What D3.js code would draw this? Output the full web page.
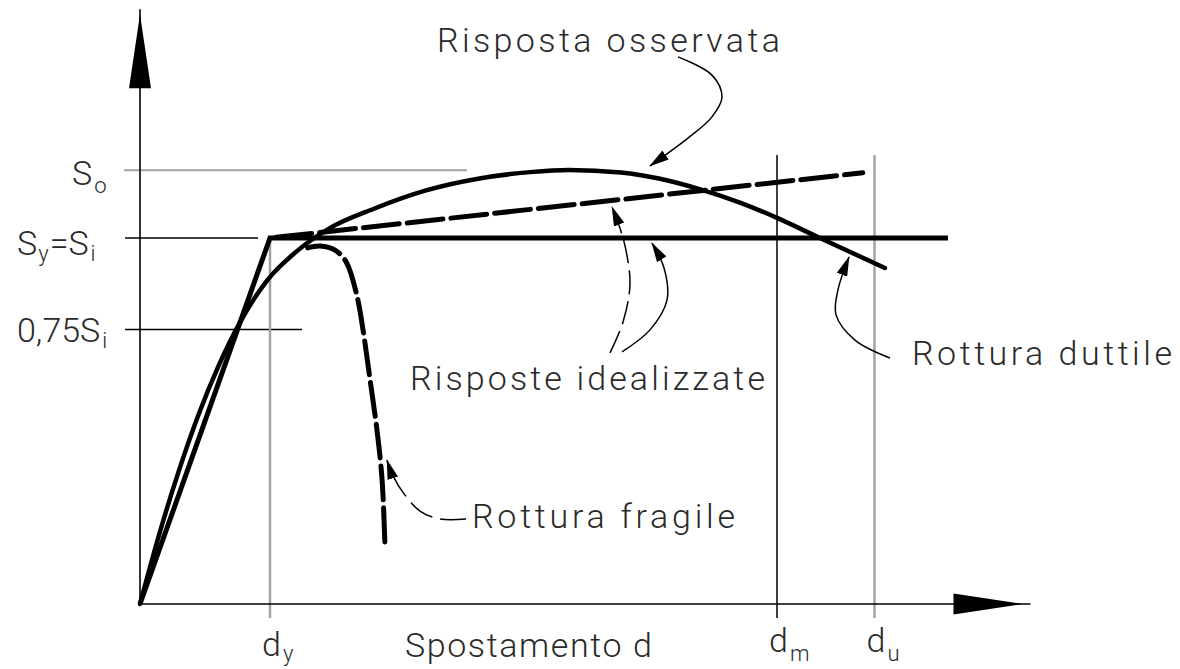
<!DOCTYPE html>
<html>
<head>
<meta charset="utf-8">
<script src="https://cdn.jsdelivr.net/npm/d3@7/dist/d3.min.js"></script>
<style>
  html, body { margin: 0; padding: 0; background: #fff; }
  svg { display: block; }
  text { font-family: Roboto, "DejaVu Sans", sans-serif; font-weight: 300; fill: #2a2a2a; }
</style>
</head>
<body>
<svg id="chart" width="1180" height="669"></svg>
<script>
// Displacement in units of d_y, force in units of S_i
const dY = 1.0, dM = 4.9, dU = 5.65;
const sI = 1.0, sO = 1.185, sFrac = 0.75;
const xAxisMax = 6.85, yAxisMax = 1.625;

// Idealised responses
const elastoPlastic = [[0, 0], [dY, sI], [6.215, sI]];
const hardening = [[dY, sI], [5.56, 1.178]];

// Observed response (ductile)
const observed = [
  [0, 0], [0.15, 0.193], [0.3, 0.365], [0.45, 0.517], [0.6, 0.647], [0.77, 0.77],
  [0.98, 0.885], [1.2, 0.962], [1.45, 1.025], [1.8, 1.08], [2.2, 1.13], [2.6, 1.162],
  [3.0, 1.18], [3.3, 1.186], [3.7, 1.179], [4.0, 1.162], [4.31, 1.133], [4.62, 1.096],
  [4.9, 1.055], [5.23, 1.0], [5.73, 0.918]
];

// Brittle failure branch
const fragile = [
  [1.29, 0.973], [1.385, 0.978], [1.5, 0.967], [1.59, 0.932], [1.67, 0.84],
  [1.715, 0.75], [1.77, 0.612], [1.823, 0.475], [1.862, 0.34], [1.885, 0.153]
];

// Leader lines for the callouts
const leaderObserved = [[4.138, 1.495], [4.4, 1.445], [4.477, 1.385], [4.4, 1.331], [4.215, 1.273], [3.923, 1.197]];
const leaderIdealDashed = [[3.615, 0.686], [3.715, 0.77], [3.769, 0.872], [3.738, 0.967], [3.692, 1.027], [3.631, 1.085]];
const leaderIdealSolid = [[3.708, 0.689], [3.923, 0.749], [4.054, 0.831], [4.031, 0.918], [3.938, 0.986]];
const leaderDuctile = [[5.769, 0.672], [5.5, 0.721], [5.354, 0.79], [5.369, 0.858], [5.454, 0.948]];
const leaderFragile = [[2.508, 0.232], [2.308, 0.232], [2.154, 0.254], [2.031, 0.301], [1.946, 0.35], [1.9, 0.393]];

const svg = d3.select("#chart");

const x = d3.scaleLinear().domain([0, 1]).range([140, 270]);
const y = d3.scaleLinear().domain([0, 1]).range([604, 238]);

const line = d3.line().x(d => x(d[0])).y(d => y(d[1]));
const smooth = d3.line().x(d => x(d[0])).y(d => y(d[1])).curve(d3.curveCatmullRom.alpha(0.5));
const monotone = d3.line().x(d => x(d[0])).y(d => y(d[1])).curve(d3.curveMonotoneX);

// arrowhead marker for callouts
svg.append("defs").append("marker")
  .attr("id", "tip")
  .attr("viewBox", "0 0 20 11")
  .attr("refX", 19).attr("refY", 5.5)
  .attr("markerWidth", 20).attr("markerHeight", 11)
  .attr("markerUnits", "userSpaceOnUse")
  .attr("orient", "auto")
  .append("path").attr("d", "M0,0 L20,5.5 L0,11 Z").attr("fill", "#000");

const grey = "#a3a3a3";

// reference levels
svg.append("line").attr("x1", 124).attr("x2", 467).attr("y1", y(sO)).attr("y2", y(sO))
  .attr("stroke", grey).attr("stroke-width", 2);
svg.append("line").attr("x1", 125).attr("x2", 258).attr("y1", y(sI)).attr("y2", y(sI))
  .attr("stroke", "#000").attr("stroke-width", 1.5);
svg.append("line").attr("x1", 125).attr("x2", 302).attr("y1", y(sFrac * sI)).attr("y2", y(sFrac * sI))
  .attr("stroke", "#000").attr("stroke-width", 1.5);

// displacement markers
svg.append("line").attr("x1", x(dY)).attr("x2", x(dY)).attr("y1", y(sI)).attr("y2", y(0) + 14)
  .attr("stroke", grey).attr("stroke-width", 2.5);
svg.append("line").attr("x1", x(dM)).attr("x2", x(dM)).attr("y1", 155).attr("y2", y(0) + 14)
  .attr("stroke", "#000").attr("stroke-width", 1.5);
svg.append("line").attr("x1", x(dU)).attr("x2", x(dU)).attr("y1", 155).attr("y2", y(0) + 14)
  .attr("stroke", grey).attr("stroke-width", 2.5);

// axes with filled arrowheads
const x0 = x(0), y0 = y(0), xEnd = x(xAxisMax), yEnd = y(yAxisMax);
svg.append("line").attr("x1", x0).attr("x2", x0).attr("y1", y0).attr("y2", yEnd)
  .attr("stroke", "#000").attr("stroke-width", 1.6);
svg.append("line").attr("x1", x0).attr("x2", xEnd).attr("y1", y0).attr("y2", y0)
  .attr("stroke", "#000").attr("stroke-width", 1.6);
svg.append("path").attr("d", `M${x0},${yEnd + 5} L${x0 - 11},${yEnd + 79} L${x0 + 11},${yEnd + 79} Z`).attr("fill", "#000");
svg.append("path").attr("d", `M${xEnd - 8},${y0} L${xEnd - 77},${y0 - 10.5} L${xEnd - 77},${y0 + 10.5} Z`).attr("fill", "#000");

// curves
svg.append("path").attr("d", line(elastoPlastic)).attr("fill", "none")
  .attr("stroke", "#000").attr("stroke-width", 5).attr("stroke-linejoin", "miter");
svg.append("path").attr("d", line(hardening)).attr("fill", "none")
  .attr("stroke", "#000").attr("stroke-width", 5).attr("stroke-dasharray", "36,8")
  .attr("stroke-dashoffset", -6).attr("stroke-linecap", "round");
svg.append("path").attr("d", monotone(observed)).attr("fill", "none")
  .attr("stroke", "#000").attr("stroke-width", 4.5).attr("stroke-linecap", "round");
svg.append("path").attr("d", smooth(fragile)).attr("fill", "none")
  .attr("stroke", "#000").attr("stroke-width", 5).attr("stroke-dasharray", "34,8")
  .attr("stroke-linecap", "round");

// callout leaders
const leader = (pts, dash) => svg.append("path").attr("d", smooth(pts)).attr("fill", "none")
  .attr("stroke", "#000").attr("stroke-width", 1.5)
  .attr("stroke-dasharray", dash || null).attr("marker-end", "url(#tip)");
leader(leaderObserved);
leader(leaderIdealDashed, "24,7");
leader(leaderIdealSolid);
leader(leaderDuctile);
leader(leaderFragile, "26,8");

// callout texts
const callouts = [
  { t: "Risposta osservata", x: 437, y: 52, w: 343 },
  { t: "Risposte idealizzate", x: 410, y: 390, w: 355 },
  { t: "Rottura duttile", x: 912, y: 365, w: 260 },
  { t: "Rottura fragile", x: 472, y: 528, w: 263 },
  { t: "Spostamento d", x: 405, y: 657, w: 247 }
];
svg.selectAll("text.callout").data(callouts).join("text")
  .attr("class", "callout")
  .attr("x", d => d.x).attr("y", d => d.y)
  .attr("font-size", 34)
  .attr("textLength", d => d.w).attr("lengthAdjust", "spacing")
  .text(d => d.t);

// force-axis labels
const lab = (xp, yp, parts) => {
  const t = svg.append("text").attr("x", xp).attr("y", yp).attr("font-size", 34);
  parts.forEach(p => t.append("tspan").attr("font-size", p.s || 34).attr("dy", p.dy || 0)
    .attr("dx", p.dx || 0).text(p.t));
  return t;
};
lab(72, y(sO) + 15, [{ t: "S" }, { t: "o", s: 22, dy: 8, dx: 2 }]);
lab(17, y(sI) + 17, [{ t: "S" }, { t: "y", s: 22, dy: 6, dx: 1 }, { t: "=", dy: -6, dx: 1 }, { t: "S" }, { t: "i", s: 22, dy: 6, dx: 2 }]);
lab(17, y(sFrac * sI) + 12, [{ t: "0,75S" }, { t: "i", s: 22, dy: 6, dx: 2 }]);

// displacement labels
lab(x(dY) - 8, 656, [{ t: "d" }, { t: "y", s: 22, dy: 5, dx: 2 }]);
lab(x(dM) - 8, 652, [{ t: "d" }, { t: "m", s: 22, dy: 9, dx: 2 }]);
lab(x(dU) - 8, 652, [{ t: "d" }, { t: "u", s: 22, dy: 9, dx: 2 }]);
</script>
</body>
</html>
